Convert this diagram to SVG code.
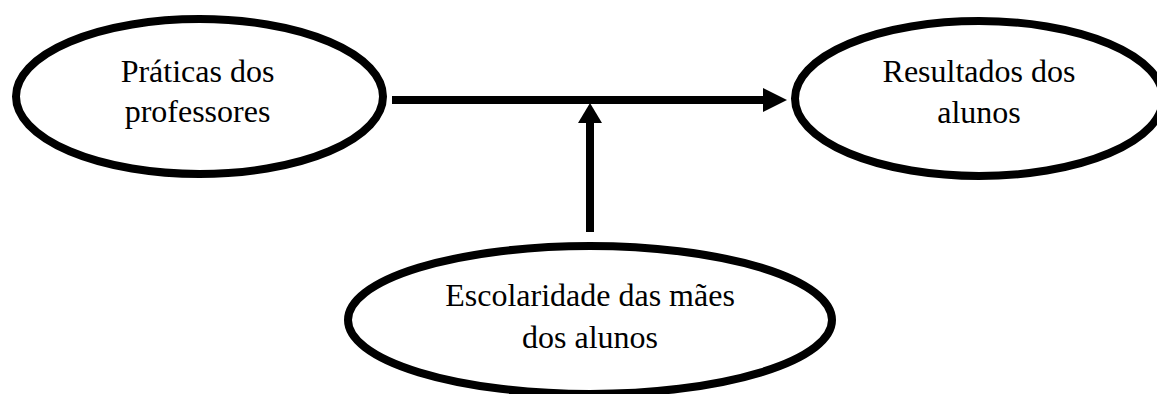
<svg xmlns="http://www.w3.org/2000/svg" width="1157" height="394" viewBox="0 0 1157 394">
<style>
.node ellipse{fill:#fff;stroke:#000;stroke-width:8}
.node text{font-family:"Liberation Serif","Times New Roman",serif;font-size:32px;fill:#000;text-anchor:middle}
.conn line{stroke:#000;stroke-width:8}
.conn polygon{fill:#000}
</style>
<rect width="1157" height="394" fill="#fff"/>
<g id="praticas" class="node">
<ellipse cx="199.5" cy="96.5" rx="183.5" ry="77.5"/>
<text x="197.5" y="82">Práticas dos</text>
<text x="197.5" y="122">professores</text>
</g>
<g id="resultados" class="node">
<ellipse cx="979" cy="98.5" rx="184" ry="77.5"/>
<text x="979" y="82">Resultados dos</text>
<text x="979" y="123">alunos</text>
</g>
<g id="escolaridade" class="node">
<ellipse cx="590" cy="320" rx="242" ry="74"/>
<text x="590" y="305.5">Escolaridade das mães</text>
<text x="590" y="348">dos alunos</text>
</g>
<g id="connectors" class="conn">
<line x1="392" y1="100" x2="765" y2="100"/>
<polygon points="763,88 787,100 763,112"/>
<line x1="590" y1="232" x2="590" y2="121"/>
<polygon points="578,123 590,103 602,123"/>
</g>
</svg>
